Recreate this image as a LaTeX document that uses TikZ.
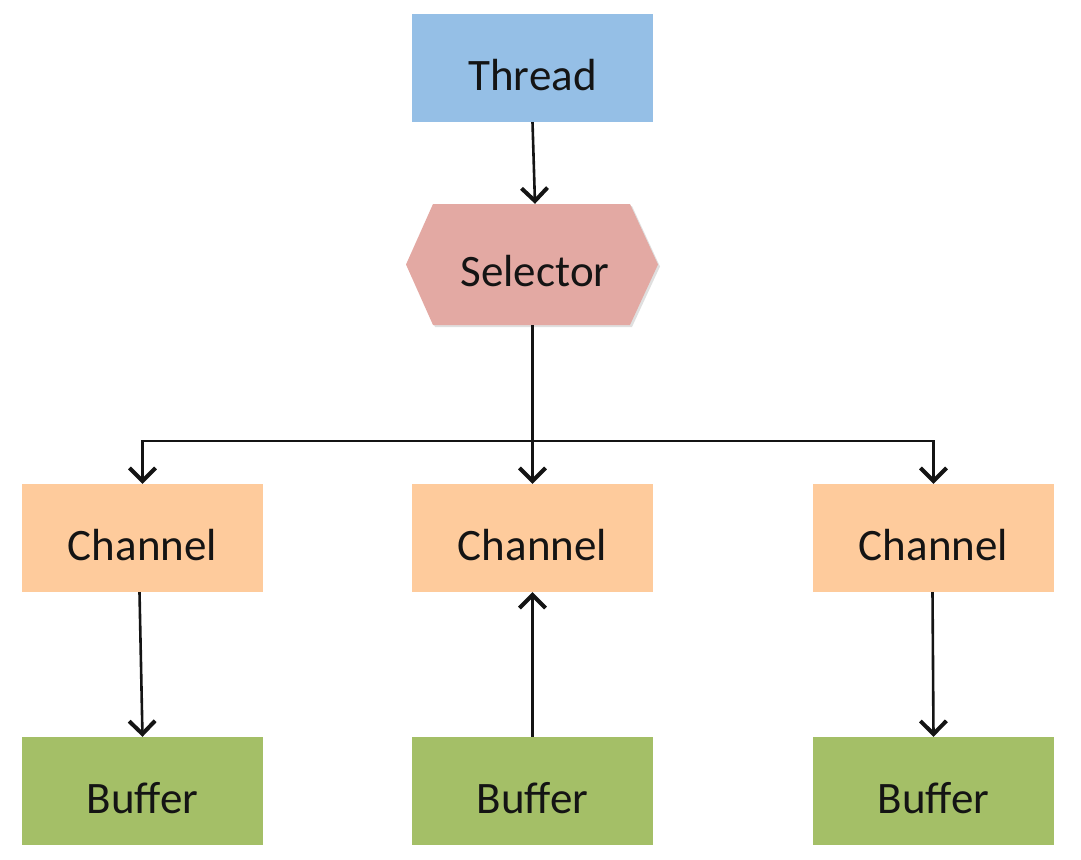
\documentclass[tikz,border=0pt]{standalone}
\usepackage{fontspec}
\setmainfont{Carlito}
\usetikzlibrary{arrows.meta,shapes.geometric,shadows}
\definecolor{threadc}{HTML}{95BFE6}
\definecolor{selc}{HTML}{E3A9A3}
\definecolor{chanc}{HTML}{FECB9C}
\definecolor{bufc}{HTML}{A4BF67}
\newcommand{\lowtext}[1]{\raisebox{-7pt}[\height][\depth]{#1}}
\tikzset{
  box/.style={rectangle, minimum width=241pt, minimum height=108pt, inner sep=0pt,
    font=\fontsize{45}{54}\selectfont, text=black!92},
  threadbox/.style={box, fill=threadc},
  chanbox/.style={box, fill=chanc},
  bufbox/.style={box, fill=bufc},
  conn/.style={line width=2.6pt, draw=black!92,
    -{Straight Barb[length=13pt,width=26pt,line width=4pt]}},
  plainconn/.style={line width=2.6pt, draw=black!92},
}
\begin{document}
\begin{tikzpicture}[x=1pt,y=-1pt]
\useasboundingbox (0,0) rectangle (1081,859);
% nodes
\node[threadbox] (thread) at (532.5,68) {\lowtext{Thread}};
\path[fill=selc, drop shadow={opacity=0.25,shadow xshift=2pt,shadow yshift=-2pt}]
  (433,204) -- (630,204) -- (658,264.5) -- (630,325) -- (433,325) -- (406,264.5) -- cycle;
\node[font=\fontsize{45}{54}\selectfont, text=black!92, minimum width=252pt, minimum height=121pt, inner sep=0pt] (sel) at (535,264.5) {\lowtext{Selector}};
\node[chanbox] (ch1) at (142.5,538) {\lowtext{Channel}};
\node[chanbox] (ch2) at (532.5,538) {\lowtext{Channel}};
\node[chanbox] (ch3) at (933.5,538) {\lowtext{Channel}};
\node[bufbox] (b1) at (142.5,791) {\lowtext{Buffer}};
\node[bufbox] (b2) at (532.5,791) {\lowtext{Buffer}};
\node[bufbox] (b3) at (933.5,791) {\lowtext{Buffer}};
% connectors
\draw[conn] (thread.south) -- (sel.north);
\draw[conn] ([xshift=-2.5pt]sel.south) -- (ch2.north);
\coordinate (j) at (532.5,441);
\draw[plainconn] (j) -- (142.5,441);
\draw[conn] (j) -| (ch1.north);
\draw[conn] (j) -| (ch3.north);
\draw[conn] ([xshift=-3pt]ch1.south) -- (b1.north);
\draw[conn] (b2.north) -- (ch2.south);
\draw[conn] ([xshift=-1pt]ch3.south) -- (b3.north);
\end{tikzpicture}
\end{document}
